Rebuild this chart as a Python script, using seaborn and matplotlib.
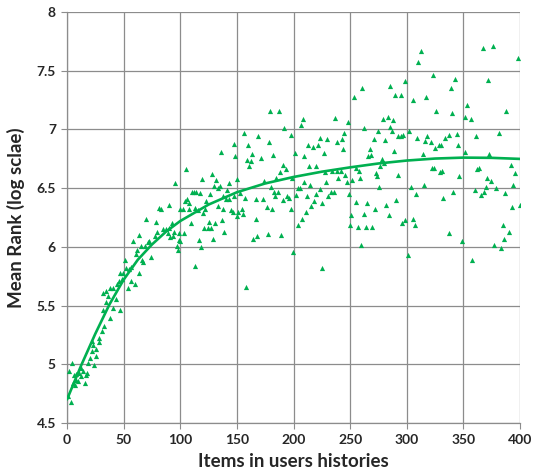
import numpy as np
import pandas as pd
import matplotlib
matplotlib.use("Agg")
import matplotlib.pyplot as plt
import seaborn as sns

# ---- data ----
items = [
    1.2, 3.5, 47, 49.4, 48.5, 45.6, 44, 40.6, 37.6, 31.8, 34.7, 43.2, 36.5, 34.4, 41, 46.5, 31.5, 38.2, 33, 30.9,
    27.9, 21.8, 28.2, 23, 21.8, 25.9, 25.3, 20.6, 24.1, 18.2, 4.1, 1.8, 5.9, 8.2, 10.6, 12.4, 14.1, 17.6, 17, 12.4,
    7.6, 9.4, 5.3, 7.1, 15.9,
    95.6, 89.7, 80.9, 82.9, 69.7, 78.5, 92.6, 85, 87.4, 90.3, 89, 94.7, 93.2, 99, 98.5, 90.9, 79.7, 77.4, 72.6, 71.5,
    63.2, 58, 69.1, 65, 62, 61, 66.2, 67.4, 73.8, 96.8, 98, 50.9, 52, 55, 56.8, 63.8, 56.2, 59.7, 53.8,
    156.6, 147.7, 160, 135.8, 148.6, 159, 163.6, 162.4, 161, 105.2, 119.4, 128, 131.8, 130, 134.7, 133.5, 142.8, 150.3,
    110.4, 112, 113.9, 117.3, 126, 141.6, 137.6, 152.6, 147.4, 140.5, 143.4, 157.2, 167, 105.8, 104, 123, 107.5, 102.3,
    100, 107.5, 112.7, 115.6, 119.7, 122, 133, 137.6, 145, 146.2, 151.4, 154.9, 155.5, 149.7, 137, 125.4, 109.8, 130.6,
    121.4, 124.3, 127.2, 138.7, 166.5, 103.5, 100, 116.2, 128.9, 164.2, 168.2, 118.2, 113.3, 158.4, 168.8,
    179.1, 187.3, 208, 206.2, 192, 198, 178, 182.3, 171.5, 200.9, 209.7, 213.2, 216.8, 222, 223.2, 229.7, 226.8, 190.9,
    193.2, 188, 213.8, 220.3, 228, 184.4, 199, 173.8, 209.1, 215, 228.5, 180.3, 203.8, 205.6, 223.8, 182.9, 186.2, 184.1,
    194.4, 196.2, 202, 212, 220.3, 230.9, 173.2, 190.3, 217.9, 215.6, 225, 176.2, 180.9, 197.4, 210.9, 207.4, 204.4,
    177.3, 189.1, 199.7, 225.6,
    285, 260.9, 253.8, 290, 236.8, 247.9, 279.1, 283.2, 287.9, 262, 285.6, 286.8, 245, 275, 292, 243.2, 270.9, 280.9,
    238, 267.9, 243.8, 289.1, 266.2, 268.5, 277.9, 279.7, 276.8, 255.6, 258, 233.8, 238.5, 242, 245.6, 239.1, 272.6,
    273.8, 259.1, 252, 246.8, 292.6, 275.6, 233.2, 235.6, 249.1, 255, 265, 272, 282, 290.9, 284, 250.9, 262.6, 249.7,
    256.8, 263.8, 269.7, 259.7,
    312.9, 310, 322.9, 298.2, 342.9, 338.8, 295.3, 305.9, 317, 325.9, 340, 302.4, 294.7, 297, 309.4, 318.2, 315.9,
    321.2, 324.7, 328.2, 330, 334.1, 337, 344, 345.3, 314.1, 322.4, 324.1, 329.4, 331.2, 346.5, 304.1, 315.3, 308.2,
    332.4, 341.2, 298.8, 295.9, 305.3, 307.1, 337.6, 301.2,
    367.1, 375.9, 397.9, 371.8, 352.9, 351.8, 357.1, 387.6, 361.2, 381.2, 351.2, 372.9, 391.8, 395.9, 361.8, 364.1,
    371.2, 374.1, 370, 394.1, 360, 368.2, 365.3, 378.8, 387.1, 392.9, 400, 384.7, 390, 385.9, 377.1, 382.9, 348.8, 357.6,
]
mean_rank = [
    4.73, 4.68, 5.78, 5.78, 5.73, 5.71, 5.68, 5.65, 5.65, 5.61, 5.62, 5.56, 5.58, 5.53, 5.48, 5.46, 5.46, 5.39, 5.33, 5.28,
    5.22, 5.20, 5.19, 5.16, 5.11, 5.13, 5.07, 5.05, 4.99, 5.01, 5.01, 4.94, 4.91, 4.92, 4.93, 4.97, 4.94, 4.93, 4.91, 4.90,
    4.87, 4.86, 4.84, 4.82, 4.84,
    6.54, 6.36, 6.33, 6.32, 6.24, 6.21, 6.20, 6.15, 6.15, 6.16, 6.12, 6.13, 6.09, 6.12, 6.06, 6.08, 6.13, 6.09, 6.05, 6.04,
    6.10, 6.05, 6.01, 6.01, 5.97, 5.94, 5.89, 5.87, 5.91, 6.01, 5.97, 5.89, 5.82, 5.81, 5.83, 5.78, 5.71, 5.68, 5.65,
    6.97, 6.88, 6.87, 6.81, 6.77, 6.74, 6.79, 6.73, 6.69, 6.66, 6.58, 6.62, 6.57, 6.52, 6.52, 6.50, 6.54, 6.58,
    6.47, 6.47, 6.47, 6.46, 6.45, 6.48, 6.43, 6.46, 6.43, 6.41, 6.41, 6.42, 6.41, 6.41, 6.39, 6.39, 6.37, 6.32,
    6.32, 6.32, 6.33, 6.31, 6.29, 6.32, 6.35, 6.32, 6.31, 6.30, 6.30, 6.32, 6.28, 6.26, 6.23, 6.21, 6.20, 6.20,
    6.16, 6.16, 6.16, 6.13, 6.24, 6.12, 6.05, 6.06, 6.07, 6.07, 6.09, 6.00, 5.84, 5.66, 6.94,
    7.16, 7.16, 7.09, 7.04, 7.01, 6.95, 6.89, 6.78, 6.76, 6.80, 6.77, 6.87, 6.85, 6.87, 6.93, 6.92, 6.80, 6.70,
    6.66, 6.64, 6.69, 6.69, 6.64, 6.59, 6.59, 6.56, 6.55, 6.53, 6.55, 6.51, 6.50, 6.50, 6.49, 6.47, 6.47, 6.43,
    6.43, 6.42, 6.44, 6.43, 6.45, 6.43, 6.41, 6.40, 6.39, 6.35, 6.37, 6.34, 6.32, 6.32, 6.30, 6.24, 6.19,
    6.11, 6.10, 5.96, 5.82,
    7.37, 7.35, 7.28, 7.29, 7.10, 7.06, 7.09, 7.11, 7.08, 7.01, 7.02, 6.99, 6.97, 6.99, 6.94, 6.92, 6.92, 6.91,
    6.89, 6.83, 6.83, 6.82, 6.77, 6.78, 6.75, 6.71, 6.69, 6.67, 6.65, 6.65, 6.65, 6.65, 6.61, 6.59, 6.63,
    6.60, 6.59, 6.57, 6.55, 6.61, 6.51, 6.47, 6.47, 6.45, 6.38, 6.37, 6.32, 6.36, 6.40, 6.27, 6.27, 6.28, 6.19,
    6.17, 6.17, 6.17, 6.02,
    7.67, 7.57, 7.46, 7.41, 7.43, 7.35, 7.29, 7.25, 7.28, 7.16, 7.14, 6.99, 6.94, 6.95, 6.93, 6.94, 6.90,
    6.89, 6.84, 6.87, 6.87, 6.93, 6.95, 6.96, 6.87, 6.79, 6.67, 6.67, 6.64, 6.65, 6.60, 6.51, 6.53, 6.45,
    6.42, 6.47, 6.23, 6.20, 6.24, 6.19, 6.12, 5.93,
    7.69, 7.71, 7.61, 7.42, 7.21, 7.11, 7.09, 7.16, 6.94, 6.97, 6.81, 6.79, 6.70, 6.63, 6.66, 6.67,
    6.59, 6.56, 6.51, 6.53, 6.48, 6.47, 6.44, 6.50, 6.46, 6.34, 6.36, 6.19, 6.13, 6.07, 6.02, 5.99, 6.05, 5.89,
]

# trend line
trend_x = [0, 12.5, 25, 37.5, 50, 62.5, 75, 87.5, 100, 125, 150, 175, 200, 225, 250, 275, 300, 325, 350, 375, 400]
trend_y = [4.70, 4.99, 5.26, 5.51, 5.72, 5.89, 6.02, 6.13, 6.22, 6.36, 6.465, 6.54, 6.595, 6.64, 6.677, 6.71,
           6.735, 6.752, 6.76, 6.758, 6.749]

x_ticks = [0, 50, 100, 150, 200, 250, 300, 350, 400]
y_ticks = [4.5, 5, 5.5, 6, 6.5, 7, 7.5, 8]
y_tick_labels = ["4.5", "5", "5.5", "6", "6.5", "7", "7.5", "8"]

GREEN = "#00B050"
GRID = "#8c8c8c"

sns.set_theme(style="white")
plt.rcParams["font.family"] = ["Lato", "DejaVu Sans"]

fig = plt.figure(figsize=(5.37, 4.73), dpi=100)
ax = fig.add_axes([67 / 537, 1 - 423 / 473, (520 - 67) / 537, (423 - 12) / 473])

df = pd.DataFrame({"items": items, "rank": mean_rank})
tr = pd.DataFrame({"x": trend_x, "y": trend_y})

sns.scatterplot(data=df, x="items", y="rank", ax=ax, marker="^", s=14, color=GREEN,
                linewidth=0, zorder=3)
sns.lineplot(data=tr, x="x", y="y", ax=ax, color=GREEN, linewidth=1.9, zorder=4)

ax.set_xlim(0, 400)
ax.set_ylim(4.5, 8)
ax.set_xticks(x_ticks)
ax.set_yticks(y_ticks)
ax.set_yticklabels(y_tick_labels)
ax.grid(True, color=GRID, linewidth=0.9)
ax.set_axisbelow(True)
for side in ["top", "right"]:
    ax.spines[side].set_visible(False)
for side in ["left", "bottom"]:
    ax.spines[side].set_color(GRID)
    ax.spines[side].set_linewidth(0.9)
ax.tick_params(axis="both", which="major", length=4, width=0.8, color=GRID,
               labelsize=10, pad=4, direction="out", bottom=True, left=True)
for lab in ax.get_xticklabels() + ax.get_yticklabels():
    lab.set_fontweight("bold")

ax.set_xlabel("Items in users histories", fontsize=13.5, fontweight="bold", labelpad=5)
ax.set_ylabel("Mean Rank (log sclae)", fontsize=13.5, fontweight="bold", labelpad=8)

fig.savefig("out.png", dpi=100)
